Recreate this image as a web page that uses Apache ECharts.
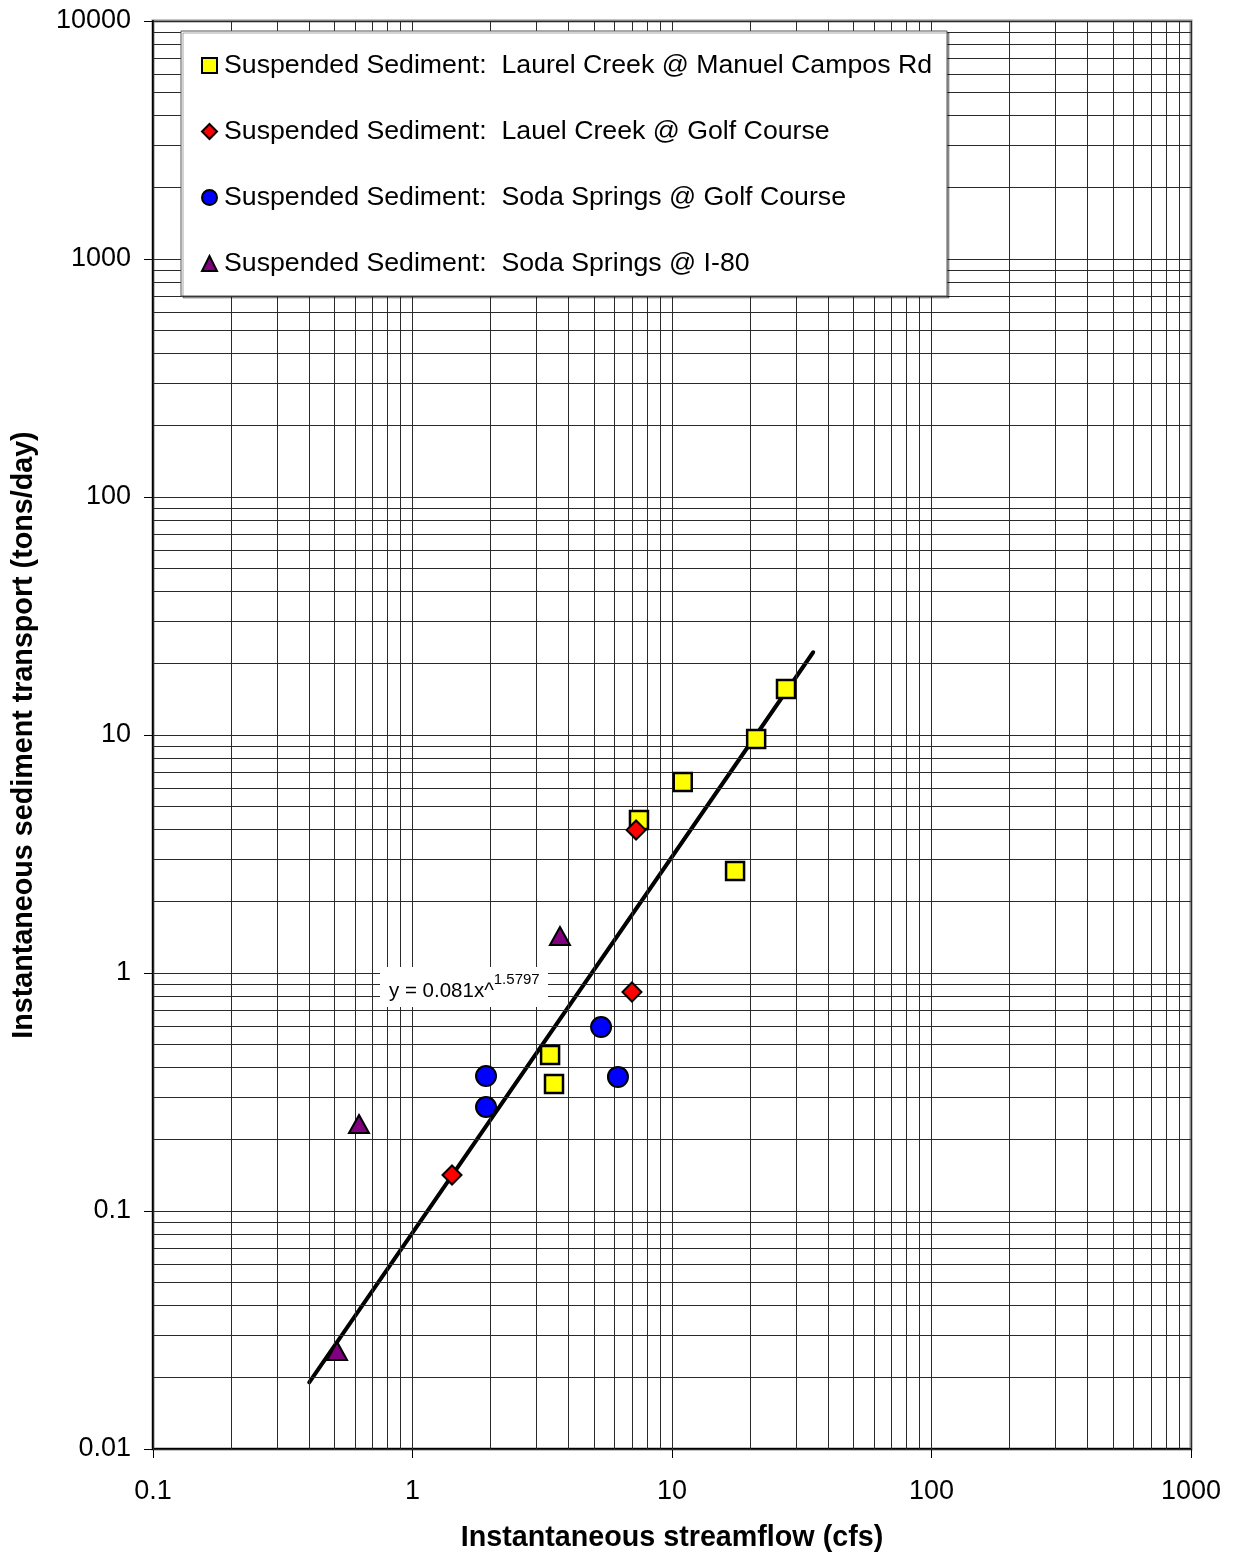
<!DOCTYPE html>
<html>
<head>
<meta charset="utf-8">
<script src="https://cdn.jsdelivr.net/npm/echarts@6/dist/echarts.min.js"></script>
<style>
  html, body { margin: 0; padding: 0; background: #fff; }
  #chart { width: 1235px; height: 1555px; }
</style>
</head>
<body>
<div id="chart"></div>
<script>
// Streamflow (cfs) and suspended sediment transport (tons/day) by station
const laurelCampos = { x: [27.5, 21.1, 11.0, 7.46, 17.5, 3.39, 3.51], y: [15.6, 9.62, 6.35, 4.39, 2.68, 0.452, 0.342] };
const laurelGolf   = { x: [7.27, 7.01, 1.42], y: [3.99, 0.832, 0.1417] };
const sodaGolf     = { x: [5.33, 1.92, 1.92, 6.19], y: [0.593, 0.369, 0.2735, 0.366] };
const sodaI80      = { x: [3.70, 0.622, 0.512], y: [1.43, 0.232, 0.0258] };

// Power-law fit y = a * x^b and the streamflow range it is drawn over
const fitA = 0.081;
const fitB = 1.5797;
const fitRange = [0.4, 35];

const seriesNames = [
  'Suspended Sediment:  Laurel Creek @ Manuel Campos Rd',
  'Suspended Sediment:  Lauel Creek @ Golf Course',
  'Suspended Sediment:  Soda Springs @ Golf Course',
  'Suspended Sediment:  Soda Springs @ I-80'
];

const xTickLabels = ['0.1', '1', '10', '100', '1000'];
const yTickLabels = ['0.01', '0.1', '1', '10', '100', '1000', '10000'];
const xDecades = [-1, 0, 1, 2];
const yDecades = [-2, -1, 0, 1, 2, 3];

function pairs(s) { return s.x.map((v, i) => [v, s.y[i]]); }

// log-paper grid: 1..9 within every decade
const gridLines = [];
xDecades.forEach(d => { for (let k = 1; k <= 9; k++) gridLines.push({ xAxis: k * Math.pow(10, d) }); });
gridLines.push({ xAxis: 1000 });
yDecades.forEach(d => { for (let k = 1; k <= 9; k++) gridLines.push({ yAxis: k * Math.pow(10, d) }); });
gridLines.push({ yAxis: 10000 });

const fitLine = fitRange.map(x => [x, fitA * Math.pow(x, fitB)]);

const font = 'Liberation Sans, Arial, sans-serif';
const chart = echarts.init(document.getElementById('chart'), null, { renderer: 'canvas' });

chart.setOption({
  animation: false,
  backgroundColor: '#fff',
  textStyle: { fontFamily: font, color: '#000' },
  grid: {
    left: 153, right: 44, top: 21, bottom: 106,
    outerBoundsMode: 'none', containLabel: false,
    show: true, borderColor: '#8a8a8a', borderWidth: 3, backgroundColor: '#fff'
  },
  xAxis: {
    type: 'log', logBase: 10, min: 0.1, max: 1000,
    name: 'Instantaneous streamflow (cfs)',
    nameLocation: 'middle', nameGap: 75,
    nameTextStyle: { fontFamily: font, fontSize: 28.7, fontWeight: 'bold', color: '#000' },
    axisLine: { show: true, onZero: false, lineStyle: { color: '#000', width: 2 } },
    axisTick: { show: true, inside: false, length: 9, lineStyle: { color: '#000', width: 1 } },
    axisLabel: {
      fontFamily: font, fontSize: 27, color: '#000', margin: 29,
      formatter: (v) => xTickLabels[Math.round(Math.log10(v)) + 1]
    },
    splitLine: { show: false }, minorTick: { show: false }
  },
  yAxis: {
    type: 'log', logBase: 10, min: 0.01, max: 10000,
    name: 'Instantaneous sediment transport (tons/day)',
    nameLocation: 'middle', nameGap: 114, nameRotate: 90,
    nameTextStyle: { fontFamily: font, fontSize: 28.7, fontWeight: 'bold', color: '#000' },
    axisLine: { show: true, onZero: false, lineStyle: { color: '#000', width: 2 } },
    axisTick: { show: true, inside: false, length: 9, lineStyle: { color: '#000', width: 1 } },
    axisLabel: {
      fontFamily: font, fontSize: 27, color: '#000', margin: 22,
      formatter: (v) => yTickLabels[Math.round(Math.log10(v)) + 2]
    },
    splitLine: { show: false }, minorTick: { show: false }
  },
  legend: {
    orient: 'vertical', left: 181, top: 31, z: 20,
    padding: [21, 15, 19, 20],
    itemGap: 39, itemWidth: 15, itemHeight: 15,
    backgroundColor: '#fff', borderColor: '#555', borderWidth: 1,
    shadowColor: 'rgba(0,0,0,0.35)', shadowOffsetX: 2, shadowOffsetY: 2, shadowBlur: 0,
    textStyle: { fontFamily: font, fontSize: 26.7, lineHeight: 27, color: '#000', padding: [0, 0, 0, 2] },
    selectedMode: false,
    data: [
      { name: seriesNames[0], icon: 'rect' },
      { name: seriesNames[1], icon: 'diamond' },
      { name: seriesNames[2], icon: 'circle' },
      { name: seriesNames[3], icon: 'triangle' }
    ]
  },
  series: [
    {
      type: 'line', name: 'grid', data: [], z: 1, silent: true,
      markLine: {
        silent: true, symbol: 'none', animation: false,
        label: { show: false },
        lineStyle: { color: '#2a2a2a', width: 1, type: 'solid' },
        emphasis: { disabled: true },
        data: gridLines
      }
    },
    {
      type: 'line', name: 'fit', data: fitLine, z: 4, silent: true,
      showSymbol: false, symbol: 'none',
      lineStyle: { color: '#000', width: 4, cap: 'round' }
    },
    {
      type: 'scatter', name: seriesNames[0], data: pairs(laurelCampos), z: 5,
      symbol: 'rect', symbolSize: 18,
      itemStyle: { color: '#ffff00', borderColor: '#000', borderWidth: 2.5, opacity: 1 }
    },
    {
      type: 'scatter', name: seriesNames[1], data: pairs(laurelGolf), z: 6,
      symbol: 'diamond', symbolSize: [19, 19],
      itemStyle: { color: '#ff0000', borderColor: '#000', borderWidth: 2, opacity: 1 }
    },
    {
      type: 'scatter', name: seriesNames[2], data: pairs(sodaGolf), z: 5,
      symbol: 'circle', symbolSize: 20,
      itemStyle: { color: '#0000ff', borderColor: '#000', borderWidth: 2, opacity: 1 }
    },
    {
      type: 'scatter', name: seriesNames[3], data: pairs(sodaI80), z: 5,
      symbol: 'triangle', symbolSize: [20, 18],
      itemStyle: { color: '#800080', borderColor: '#000', borderWidth: 2, opacity: 1 }
    }
  ],
  graphic: [
    {
      type: 'rect', z: 20, left: 380, top: 967,
      shape: { width: 168, height: 40 },
      style: { fill: '#fff' }
    },
    {
      type: 'text', z: 21, left: 389, top: 972,
      style: {
        text: '{a|y = ' + fitA + 'x^}{b|' + fitB + '}',
        rich: {
          a: { fontFamily: font, fontSize: 20.5, color: '#000', lineHeight: 30, verticalAlign: 'bottom' },
          b: { fontFamily: font, fontSize: 15, color: '#000', lineHeight: 30, verticalAlign: 'top', padding: [0, 0, 10, 0] }
        }
      }
    }
  ]
});
</script>
</body>
</html>
